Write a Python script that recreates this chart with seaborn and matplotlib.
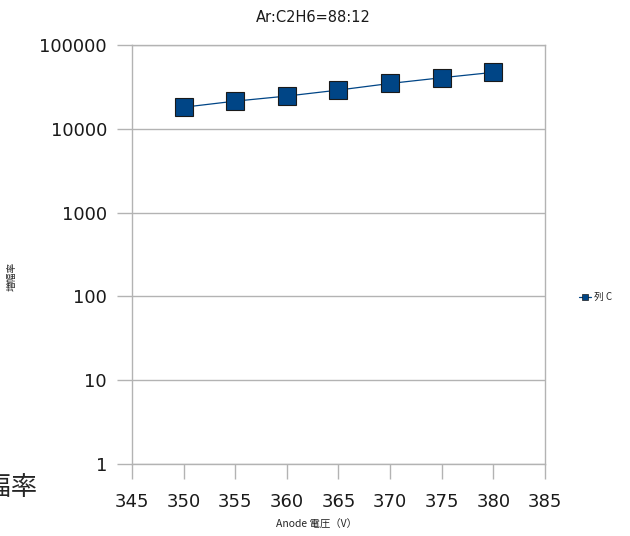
import numpy as np
import pandas as pd
import matplotlib
matplotlib.use('Agg')
import matplotlib.pyplot as plt
from matplotlib.lines import Line2D
import seaborn as sns

sns.set_style('white')
plt.rcParams['font.family'] = ['DejaVu Sans', 'Noto Sans CJK JP']

voltage = [350, 355, 360, 365, 370, 375, 380]
gain = [18100, 21400, 24600, 29000, 34800, 40700, 47200]
series_name = '列 C'

data = pd.DataFrame({'voltage': voltage, 'gain': gain, 'series': series_name})

fig = plt.figure(figsize=(6.3, 5.36), dpi=100)
ax = fig.add_axes([0.2095, 0.1343, 0.6555, 0.7817])

grid_col = '#b3b3b3'
blue = '#004586'
jp = ['Noto Sans CJK JP', 'DejaVu Sans']

sns.lineplot(data=data, x='voltage', y='gain', hue='series', palette=[blue],
             marker='s', markersize=13.5, markeredgecolor='#1a1a1a',
             markeredgewidth=0.8, linewidth=0.9, ax=ax, legend=False)

ax.set_yscale('log')
ax.set_ylim(1, 100000)
ax.set_xlim(345, 385)
ax.set_xticks(range(345, 386, 5))
ax.set_yticks([1, 10, 100, 1000, 10000, 100000])
ax.set_yticklabels(['1', '10', '100', '1000', '10000', '100000'])
ax.minorticks_off()
ax.yaxis.grid(True, color=grid_col, linewidth=1)
ax.xaxis.grid(False)
for s in ax.spines.values():
    s.set_color(grid_col)
    s.set_linewidth(1)
ax.tick_params(axis='both', which='major', bottom=True, left=True,
               length=11, width=1, color=grid_col, labelsize=13,
               direction='out', labelcolor='#1a1a1a')
ax.tick_params(axis='x', pad=10)
ax.tick_params(axis='y', pad=7)
ax.set_xlabel('')
ax.set_ylabel('')

# titles placed in figure coords like the original export
fig.text(0.497, 0.968, 'Ar:C2H6=88:12', fontsize=10.5, ha='center',
         va='center', color='#1a1a1a')
fig.text(0.503, 0.021, 'Anode 電圧（V）', fontsize=7.5, ha='center',
         va='center', family=jp)
fig.text(0.019, 0.485, '増幅率', rotation=90, fontsize=7, ha='center',
         va='center', family=jp)
fig.text(0.059, 0.091, '増幅率', fontsize=19, ha='right', va='center',
         family=jp)

handle = Line2D([0], [0], color=blue, marker='s', markersize=5,
                markeredgecolor='#1a1a1a', markeredgewidth=0.5, linewidth=0.9)
fig.legend([handle], [series_name], loc='center left',
           bbox_to_anchor=(0.905, 0.446), frameon=False,
           handlelength=1.2, handletextpad=0.4,
           prop={'family': jp, 'size': 7})

fig.savefig('out.png', dpi=100)
